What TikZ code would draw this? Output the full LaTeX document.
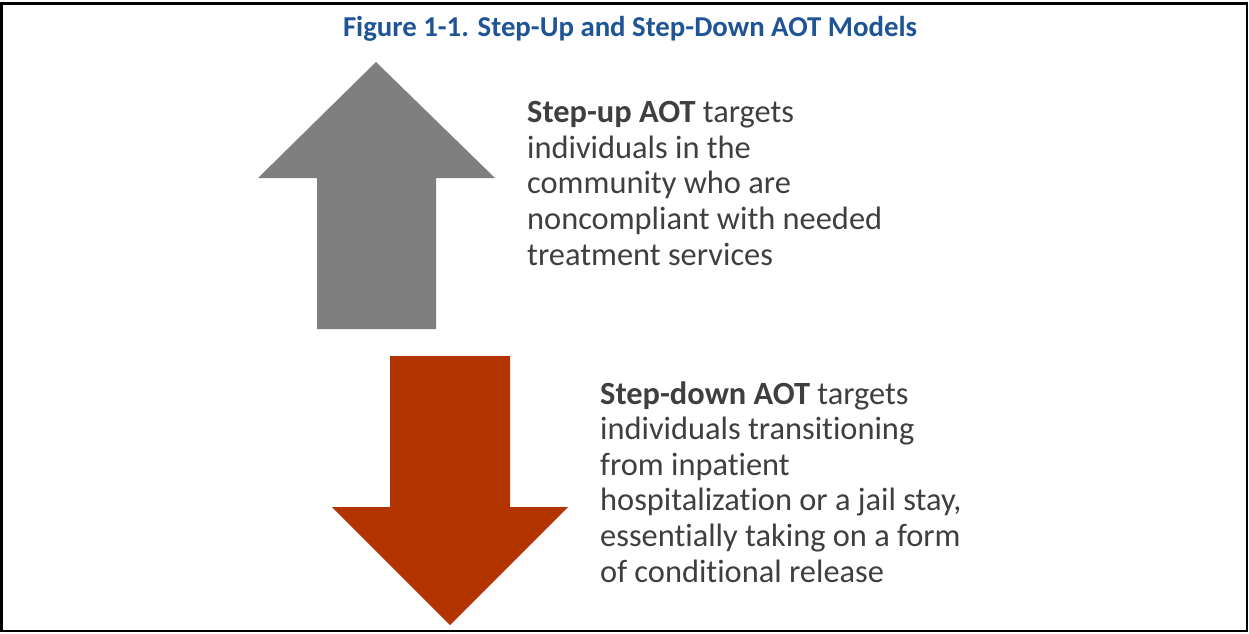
\documentclass[tikz,border=0pt]{standalone}
\usepackage{fontspec}
\setmainfont{Carlito}[RawFeature={-liga}]
\definecolor{titleblue}{HTML}{1F5596}
\definecolor{upgray}{HTML}{7F7F7F}
\definecolor{downred}{HTML}{B33400}
\definecolor{bodytext}{HTML}{3F3F3F}
\tikzset{
  bodytxt/.style={anchor=base west, inner sep=0pt, align=left, text=bodytext,
    font=\fontsize{32.4}{35.6}\selectfont},
  titletxt/.style={anchor=base, inner sep=0pt, text=titleblue,
    font=\fontsize{28.8}{32}\selectfont\bfseries},
}
\begin{document}
\begin{tikzpicture}[x=1pt,y=-1pt]
\useasboundingbox (0,0) rectangle (1249,633);
\fill[white] (0,0) rectangle (1249,633);
\draw[black, line width=2.2pt] (1.5,3.5) rectangle (1247,631);
\node[titletxt] (title) at (630,36) {Figure 1-1. Step-Up and Step-Down AOT Models};
% up arrow
\fill[upgray] (376,62) -- (495,178) -- (436,178) -- (436,329) -- (317,329) -- (317,178) -- (258,178) -- cycle;
% down arrow
\fill[downred] (390,356) -- (510,356) -- (510,507) -- (568,507) -- (450,625) -- (332,507) -- (390,507) -- cycle;
% base anchor of a multi-line node is the baseline of its last line
\node[bodytxt] (uptext) at (527,265) {\textbf{Step-up AOT} targets\\individuals in the\\community who are\\noncompliant with needed\\treatment services};
\node[bodytxt] (downtext) at (600,582) {\textbf{Step-down AOT} targets\\individuals transitioning\\from inpatient\\hospitalization or a jail stay,\\essentially taking on a form\\of conditional release};
\end{tikzpicture}
\end{document}
